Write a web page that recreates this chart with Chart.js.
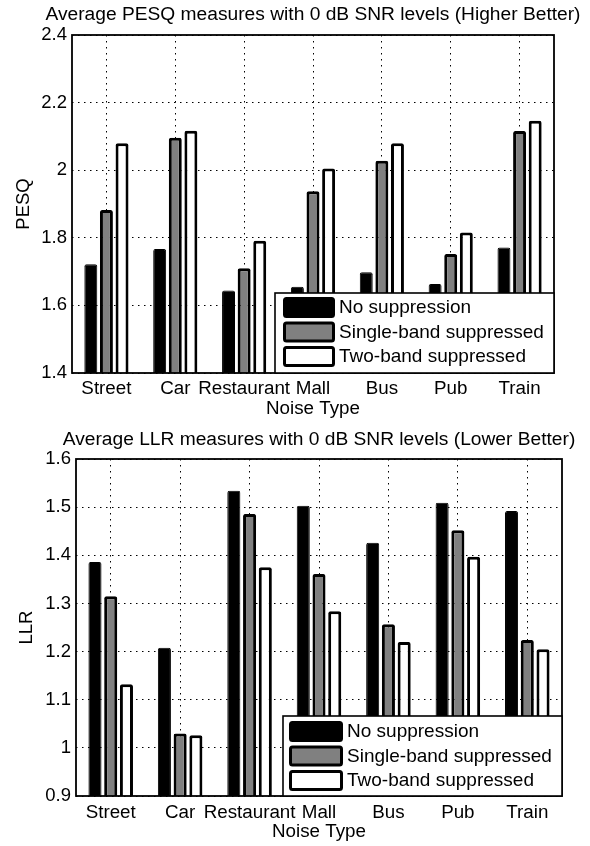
<!DOCTYPE html>
<html><head><meta charset="utf-8">
<script src="https://cdn.jsdelivr.net/npm/chart.js@4.4.0/dist/chart.umd.min.js"></script>
<style>html,body{margin:0;padding:0;background:#fff;} .w{position:absolute;left:0;width:590px;height:423px;}</style>
</head><body>
<div class="w" style="top:0"><canvas id="c1" width="590" height="423"></canvas></div>
<div class="w" style="top:423px"><canvas id="c2" width="590" height="423"></canvas></div>
<script>
const categories = ['Street','Car','Restaurant','Mall','Bus','Pub','Train'];
const seriesNames = ['No suppression','Single-band suppressed','Two-band suppressed'];
const pesqNone   = [1.722,1.767,1.644,1.655,1.698,1.663,1.771];
const pesqSingle = [1.882,2.096,1.710,1.938,2.028,1.752,2.116];
const pesqTwo    = [2.080,2.117,1.791,2.005,2.080,1.816,2.146];
const llrNone    = [1.386,1.208,1.534,1.503,1.426,1.509,1.492];
const llrSingle  = [1.315,1.030,1.486,1.361,1.257,1.452,1.224];
const llrTwo     = [1.132,1.026,1.375,1.284,1.220,1.397,1.205];
const pesqTickValues = [1.4,1.6,1.8,2,2.2,2.4];
const pesqTickLabels = ['1.4','1.6','1.8','2','2.2','2.4'];
const llrTickValues  = [0.9,1,1.1,1.2,1.3,1.4,1.5,1.6];
const llrTickLabels  = ['0.9','1','1.1','1.2','1.3','1.4','1.5','1.6'];
const titles = ['Average PESQ measures with 0 dB SNR levels (Higher Better)','Average LLR measures with 0 dB SNR levels (Lower Better)'];

const FONT = "'Liberation Sans', Arial, sans-serif";
Chart.defaults.font.family = FONT;
Chart.defaults.color = '#000';

const framePlugin = {id:'frame', afterDatasetsDraw(chart){
  const {ctx, chartArea:a} = chart; ctx.save(); ctx.strokeStyle='#000'; ctx.lineWidth=1.8;
  ctx.strokeRect(a.left, a.top, a.right-a.left, a.bottom-a.top); ctx.restore();
}};
const plotTitle = {id:'plotTitle', afterDraw(chart, args, o){
  const {ctx, chartArea:a} = chart; ctx.save(); ctx.fillStyle='#000'; ctx.font=o.size+'px '+FONT;
  ctx.textAlign='center'; ctx.textBaseline='alphabetic'; ctx.fillText(o.text, (a.left+a.right)/2, o.baseline); ctx.restore();
}};
function rr(ctx,x,y,w,h,r){ctx.beginPath();ctx.moveTo(x+r,y);ctx.lineTo(x+w-r,y);ctx.quadraticCurveTo(x+w,y,x+w,y+r);ctx.lineTo(x+w,y+h-r);ctx.quadraticCurveTo(x+w,y+h,x+w-r,y+h);ctx.lineTo(x+r,y+h);ctx.quadraticCurveTo(x,y+h,x,y+h-r);ctx.lineTo(x,y+r);ctx.quadraticCurveTo(x,y,x+r,y);ctx.closePath();}
const boxLegend = {id:'boxLegend', afterDraw(chart, args, o){
  const {ctx, chartArea:a} = chart; const W=279, H=80; const x0=a.right-W, y0=a.bottom-H;
  ctx.save(); ctx.fillStyle='#fff'; ctx.fillRect(x0,y0,W,H); ctx.strokeStyle='#000'; ctx.lineWidth=1.6; ctx.strokeRect(x0,y0,W,H);
  chart.data.datasets.forEach((ds,i)=>{
    const sx=x0+o.swX, sy=y0+o.swY+i*24.5, sw=o.swW, sh=21, lw=3;
    rr(ctx,sx+lw/2,sy+lw/2,sw-lw,sh-lw,2); ctx.fillStyle=ds.backgroundColor; ctx.fill();
    ctx.lineWidth=lw; ctx.strokeStyle='#000'; ctx.lineJoin='round'; ctx.stroke();
    ctx.fillStyle='#000'; ctx.font='19px '+FONT; ctx.textBaseline='middle'; ctx.textAlign='left';
    ctx.fillText(ds.label, x0+o.txtX, sy+sh/2+0.5);
  });
  ctx.restore();
}};

function makeChart(id, vals, tickVals, tickLabels, yTitle, title, L){
  const colors = ['#000000','#808080','#ffffff'];
  const bw = [1,3,3];
  return new Chart(document.getElementById(id), {
    type:'bar',
    data:{labels:categories, datasets: vals.map((v,i)=>({label:seriesNames[i], data:v, backgroundColor:colors[i], borderColor:'#000', borderWidth:bw[i], borderRadius:2, borderSkipped:'start', categoryPercentage:0.68, barPercentage:0.83}))},
    options:{
      responsive:false, animation:false, devicePixelRatio:1,
      layout:{padding:{left:0,right:L.padRight,top:L.padTop,bottom:0}},
      plugins:{
        legend:{display:false}, tooltip:{enabled:false}, title:{display:false},
        plotTitle:{text:title, size:19.2, baseline:L.tBase},
        boxLegend:{swX:L.swX, swY:L.swY, swW:L.swW, txtX:L.txtX}
      },
      scales:{
        x:{offset:true, grid:{offset:false, drawTicks:false, color:'#000', lineWidth:1}, border:{display:false, dash:[1.5,4.5]},
           ticks:{padding:L.xPad, font:{size:18.8}, color:'#000', maxRotation:0, autoSkip:false},
           title:{display:true, text:'Noise Type', font:{size:18.8}, color:'#000', padding:{top:0,bottom:L.xtPad}},
           afterFit:s=>{s.height=50;}},
        y:{min:tickVals[0], max:tickVals[tickVals.length-1],
           afterBuildTicks:s=>{s.ticks=tickVals.map(v=>({value:v}));},
           grid:{drawTicks:false, color:'#000', lineWidth:1}, border:{display:false, dash:[1.5,4.5]},
           ticks:{padding:5, font:{size:18.5}, color:'#000', callback:(v)=>{const k=tickVals.findIndex(t=>Math.abs(t-v)<1e-9); return k>=0?tickLabels[k]:'';}},
           title:{display:true, text:yTitle, font:{size:18.5}, color:'#000', padding:{top:L.ytPad,bottom:0}},
           afterFit:s=>{s.width=L.yW;}}
      }
    },
    plugins:[framePlugin, plotTitle, boxLegend]
  });
}
makeChart('c1',[pesqNone,pesqSingle,pesqTwo],pesqTickValues,pesqTickLabels,'PESQ',titles[0],
  {padRight:36,padTop:35,tBase:20,yW:72,xPad:4.5,xtPad:3.3,ytPad:12.5,swX:8,swY:4,swW:52,txtX:64});
makeChart('c2',[llrNone,llrSingle,llrTwo],llrTickValues,llrTickLabels,'LLR',titles[1],
  {padRight:28,padTop:36,tBase:22,yW:76,xPad:6,xtPad:3,ytPad:15.8,swX:6,swY:5,swW:54,txtX:64});
</script>
</body></html>
